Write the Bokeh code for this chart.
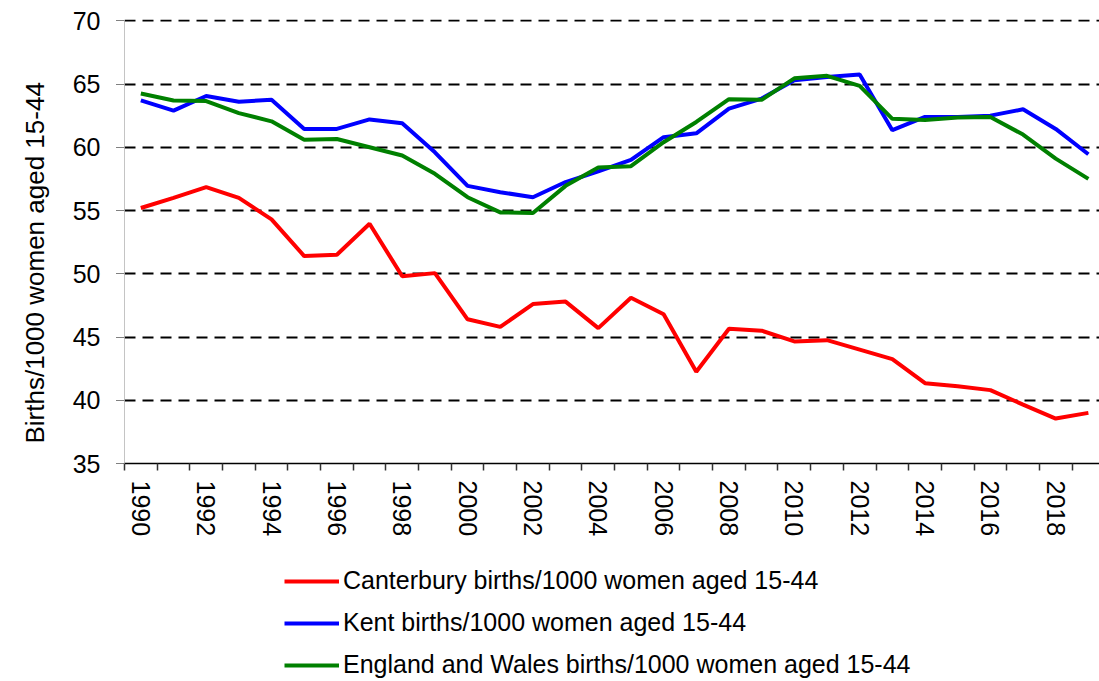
from bokeh.plotting import figure
from bokeh.layouts import column
from bokeh.models import Range1d, FixedTicker, Legend, LegendItem, ColumnDataSource, Title
from bokeh.embed import file_html
from bokeh.resources import INLINE

years = list(range(1990, 2020))
canterbury = [55.2, 56.0, 56.85, 56.0, 54.3, 51.4, 51.5, 53.95, 49.8, 50.05,
              46.4, 45.8, 47.6, 47.8, 45.7, 48.1, 46.8, 42.25, 45.65, 45.5,
              44.65, 44.75, 44.0, 43.25, 41.35, 41.1, 40.8, 39.65, 38.55, 39.0]
kent = [63.7, 62.9, 64.05, 63.6, 63.75, 61.45, 61.45, 62.2, 61.9, 59.6,
        56.95, 56.45, 56.05, 57.25, 58.1, 59.0, 60.8, 61.1, 63.05, 63.85,
        65.3, 65.55, 65.75, 61.35, 62.4, 62.4, 62.5, 63.0, 61.45, 59.45]
england_wales = [64.25, 63.7, 63.65, 62.7, 62.05, 60.6, 60.65, 60.0, 59.35, 57.9,
                 56.05, 54.85, 54.8, 56.95, 58.4, 58.5, 60.4, 62.0, 63.8, 63.75,
                 65.45, 65.65, 64.85, 62.25, 62.15, 62.35, 62.4, 61.0, 59.1, 57.5]
labels = ["Canterbury births/1000 women aged 15-44",
          "Kent births/1000 women aged 15-44",
          "England and Wales births/1000 women aged 15-44"]
y_title = "Births/1000 women aged 15-44"
colors = ["#FF0000", "#0000FF", "#008000"]
x_tick_years = list(range(1990, 2019, 2))
y_ticks = list(range(35, 71, 5))

src = ColumnDataSource(dict(year=years, canterbury=canterbury, kent=kent, ew=england_wales))

FONT = "Liberation Sans"

# ---------------- main chart ----------------
p = figure(width=1099, height=560, output_backend="svg", toolbar_location=None,
           x_range=Range1d(1989.5, 2019.34), y_range=Range1d(35, 70.1),
           min_border_left=124, min_border_top=19, min_border_bottom=97,
           min_border_right=0)
p.outline_line_color = None
p.background_fill_color = "white"
p.border_fill_color = "white"

p.xgrid.grid_line_color = None
p.ygrid.grid_line_color = "black"
p.ygrid.grid_line_dash = "11 7"
p.ygrid.grid_line_width = 2

p.yaxis.ticker = FixedTicker(ticks=y_ticks)
p.yaxis.axis_line_color = "#888888"
p.yaxis.axis_line_dash = "1 1"
p.yaxis.axis_line_width = 1
p.yaxis.major_tick_out = 8
p.yaxis.major_tick_in = 0
p.yaxis.major_tick_line_dash = "1 1"
p.yaxis.major_tick_line_color = "black"
p.yaxis.minor_tick_line_color = None
p.yaxis.major_label_text_font = FONT
p.yaxis.major_label_text_font_size = "25px"
p.yaxis.major_label_text_color = "black"
p.yaxis.major_label_standoff = 16

title_kw = dict(text=y_title, align="left", offset=20, vertical_align="top",
                text_font=FONT, text_font_size="26px", text_font_style="normal",
                text_color="black")
if "standoff" in Title.properties():
    title_kw["standoff"] = 35
ytitle = Title(**title_kw)
p.add_layout(ytitle, "left")

boundaries = [y - 0.5 for y in years] + [years[-1] + 0.5]
p.xaxis.ticker = FixedTicker(ticks=x_tick_years, minor_ticks=boundaries)
p.xaxis.axis_line_color = "black"
p.xaxis.axis_line_width = 1.5
p.xaxis.major_tick_out = 0
p.xaxis.major_tick_in = 0
p.xaxis.minor_tick_out = 7
p.xaxis.minor_tick_in = 0
p.xaxis.minor_tick_line_color = "#333333"
p.xaxis.minor_tick_line_width = 1.5
p.xaxis.major_label_orientation = "vertical"
p.xaxis.major_label_text_font = FONT
p.xaxis.major_label_text_font_size = "25px"
p.xaxis.major_label_text_color = "black"
p.xaxis.major_label_standoff = 10

p.line(x="year", y="canterbury", source=src, line_color=colors[0], line_width=4)
p.line(x="year", y="kent", source=src, line_color=colors[1], line_width=4)
p.line(x="year", y="ew", source=src, line_color=colors[2], line_width=4)

# ---------------- legend strip ----------------
lg = figure(width=1099, height=121, output_backend="svg", toolbar_location=None,
            x_axis_type=None, y_axis_type=None,
            x_range=Range1d(0, 1), y_range=Range1d(0, 1),
            min_border_left=0, min_border_right=0, min_border_top=0,
            min_border_bottom=0)
lg.outline_line_color = None
lg.xgrid.grid_line_color = None
lg.ygrid.grid_line_color = None
lg.background_fill_color = "white"
lg.border_fill_color = "white"

# same series, outside this strip's view: only their legend glyphs show
l1 = lg.line(x="year", y="canterbury", source=src, line_color=colors[0], line_width=4)
l2 = lg.line(x="year", y="kent", source=src, line_color=colors[1], line_width=4)
l3 = lg.line(x="year", y="ew", source=src, line_color=colors[2], line_width=4)

legend = Legend(items=[LegendItem(label=labels[0], renderers=[l1]),
                       LegendItem(label=labels[1], renderers=[l2]),
                       LegendItem(label=labels[2], renderers=[l3])],
                location=(160, 2), orientation="vertical",
                padding=0, margin=0, border_line_color=None,
                background_fill_alpha=0, glyph_width=55, glyph_height=20,
                label_standoff=4, spacing=13,
                label_text_font=FONT, label_text_font_size="25px",
                label_text_color="black")
lg.add_layout(legend)

layout = column(p, lg, spacing=0)
open("out.html", "w").write(file_html(layout, INLINE))
